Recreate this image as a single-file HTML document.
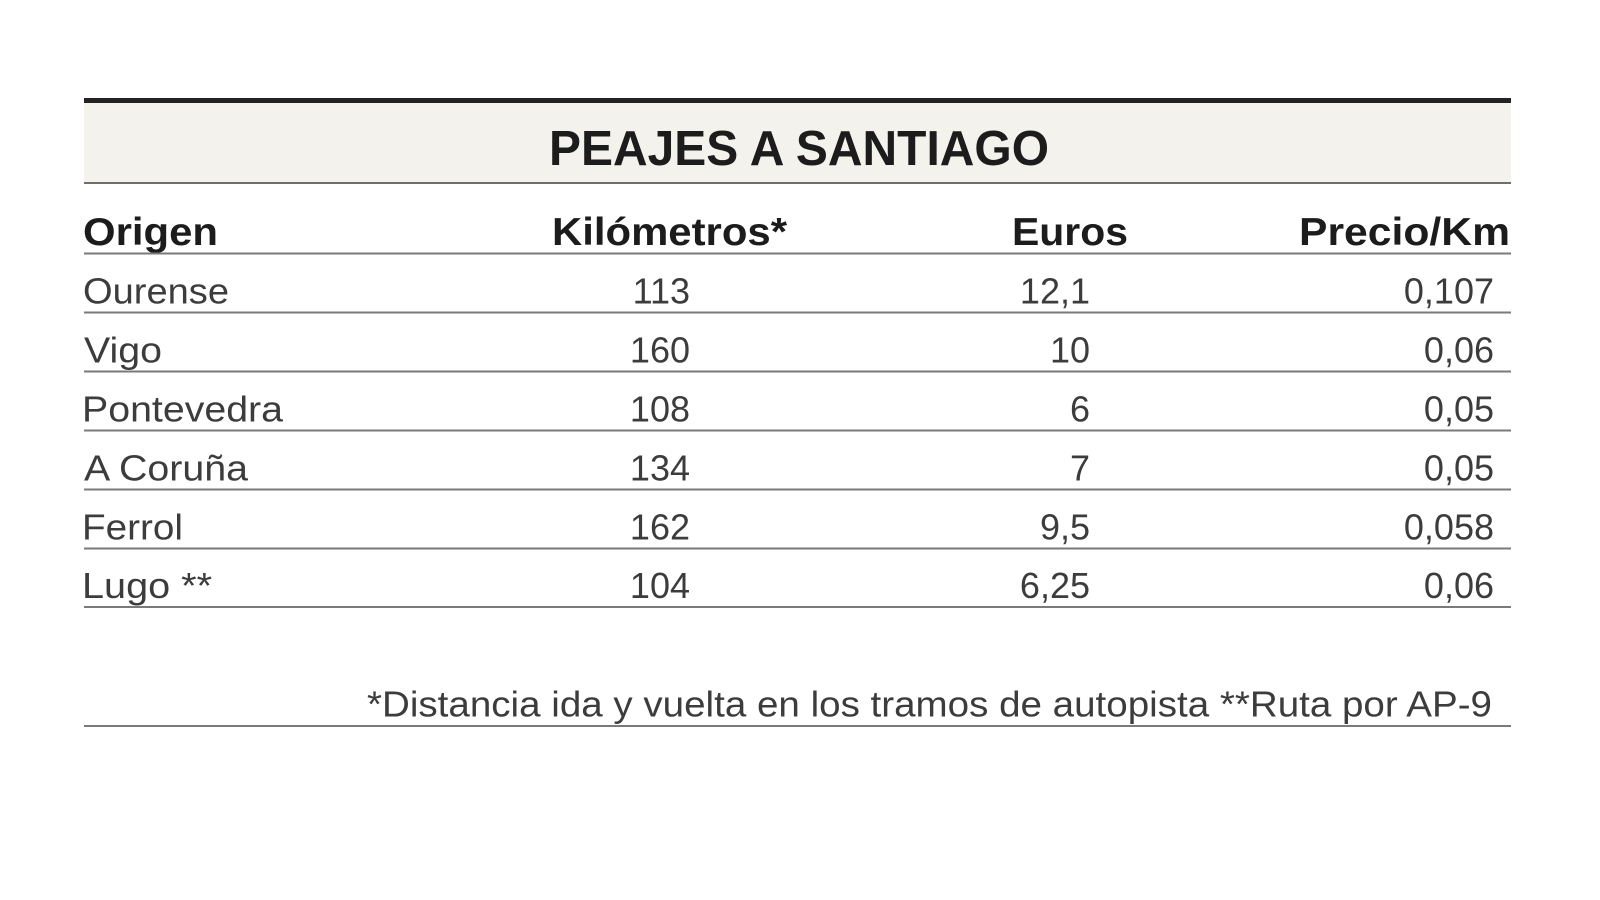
<!DOCTYPE html>
<html>
<head>
<meta charset="utf-8">
<style>
  html, body { margin: 0; padding: 0; background: #ffffff; }
  body { width: 1600px; height: 900px; overflow: hidden; }
  svg { display: block; }
  .t { font-family: "Liberation Sans", Arial, sans-serif; }
  .b { font-weight: bold; fill: #1c1c1c; }
  .r { fill: #3c3c3c; font-size: 36px; }
</style>
</head>
<body>
<svg width="1600" height="900" viewBox="0 0 1600 900" xmlns="http://www.w3.org/2000/svg">
  <rect x="0" y="0" width="1600" height="900" fill="#ffffff"/>

  <!-- header band -->
  <rect x="84" y="103" width="1427" height="79" fill="#f3f2ec"/>
  <rect x="84" y="98" width="1427" height="5" fill="#232323"/>
  <rect x="84" y="182" width="1427" height="2" fill="#6e6e6e"/>

  <text class="t b" x="549" y="165" font-size="49" textLength="500" lengthAdjust="spacingAndGlyphs">PEAJES A SANTIAGO</text>

  <!-- column headers -->
  <text class="t b" x="83" y="245" font-size="39" textLength="135" lengthAdjust="spacingAndGlyphs">Origen</text>
  <text class="t b" x="552" y="245" font-size="39" textLength="235" lengthAdjust="spacingAndGlyphs">Kilómetros*</text>
  <text class="t b" x="1012" y="245" font-size="39" textLength="116" lengthAdjust="spacingAndGlyphs">Euros</text>
  <text class="t b" x="1299" y="245" font-size="39" textLength="211" lengthAdjust="spacingAndGlyphs">Precio/Km</text>

  <!-- row lines -->
  <g fill="#7a7a7a">
    <rect x="84" y="252.5" width="1427" height="2"/>
    <rect x="84" y="311.5" width="1427" height="2"/>
    <rect x="84" y="370.5" width="1427" height="2"/>
    <rect x="84" y="429.5" width="1427" height="2"/>
    <rect x="84" y="488.5" width="1427" height="2"/>
    <rect x="84" y="547.5" width="1427" height="2"/>
    <rect x="84" y="606" width="1427" height="2"/>
    <rect x="84" y="725" width="1427" height="2"/>
  </g>

  <!-- rows -->
  <g class="t r">
    <text x="83" y="303.5" textLength="146" lengthAdjust="spacingAndGlyphs">Ourense</text>
    <text x="690" y="303.5" text-anchor="end">113</text>
    <text x="1090" y="303.5" text-anchor="end">12,1</text>
    <text x="1494" y="303.5" text-anchor="end">0,107</text>

    <text x="84" y="362.5" textLength="78" lengthAdjust="spacingAndGlyphs">Vigo</text>
    <text x="690" y="362.5" text-anchor="end">160</text>
    <text x="1090" y="362.5" text-anchor="end">10</text>
    <text x="1494" y="362.5" text-anchor="end">0,06</text>

    <text x="82" y="421.5" textLength="201" lengthAdjust="spacingAndGlyphs">Pontevedra</text>
    <text x="690" y="421.5" text-anchor="end">108</text>
    <text x="1090" y="421.5" text-anchor="end">6</text>
    <text x="1494" y="421.5" text-anchor="end">0,05</text>

    <text x="84" y="480.5" textLength="164" lengthAdjust="spacingAndGlyphs">A Coruña</text>
    <text x="690" y="480.5" text-anchor="end">134</text>
    <text x="1090" y="480.5" text-anchor="end">7</text>
    <text x="1494" y="480.5" text-anchor="end">0,05</text>

    <text x="82" y="539.5" textLength="101" lengthAdjust="spacingAndGlyphs">Ferrol</text>
    <text x="690" y="539.5" text-anchor="end">162</text>
    <text x="1090" y="539.5" text-anchor="end">9,5</text>
    <text x="1494" y="539.5" text-anchor="end">0,058</text>

    <text x="82" y="598" textLength="130" lengthAdjust="spacingAndGlyphs">Lugo **</text>
    <text x="690" y="598" text-anchor="end">104</text>
    <text x="1090" y="598" text-anchor="end">6,25</text>
    <text x="1494" y="598" text-anchor="end">0,06</text>

    <text x="367" y="716.5" textLength="1125" lengthAdjust="spacingAndGlyphs">*Distancia ida y vuelta en los tramos de autopista **Ruta por AP-9</text>
  </g>
</svg>
</body>
</html>
